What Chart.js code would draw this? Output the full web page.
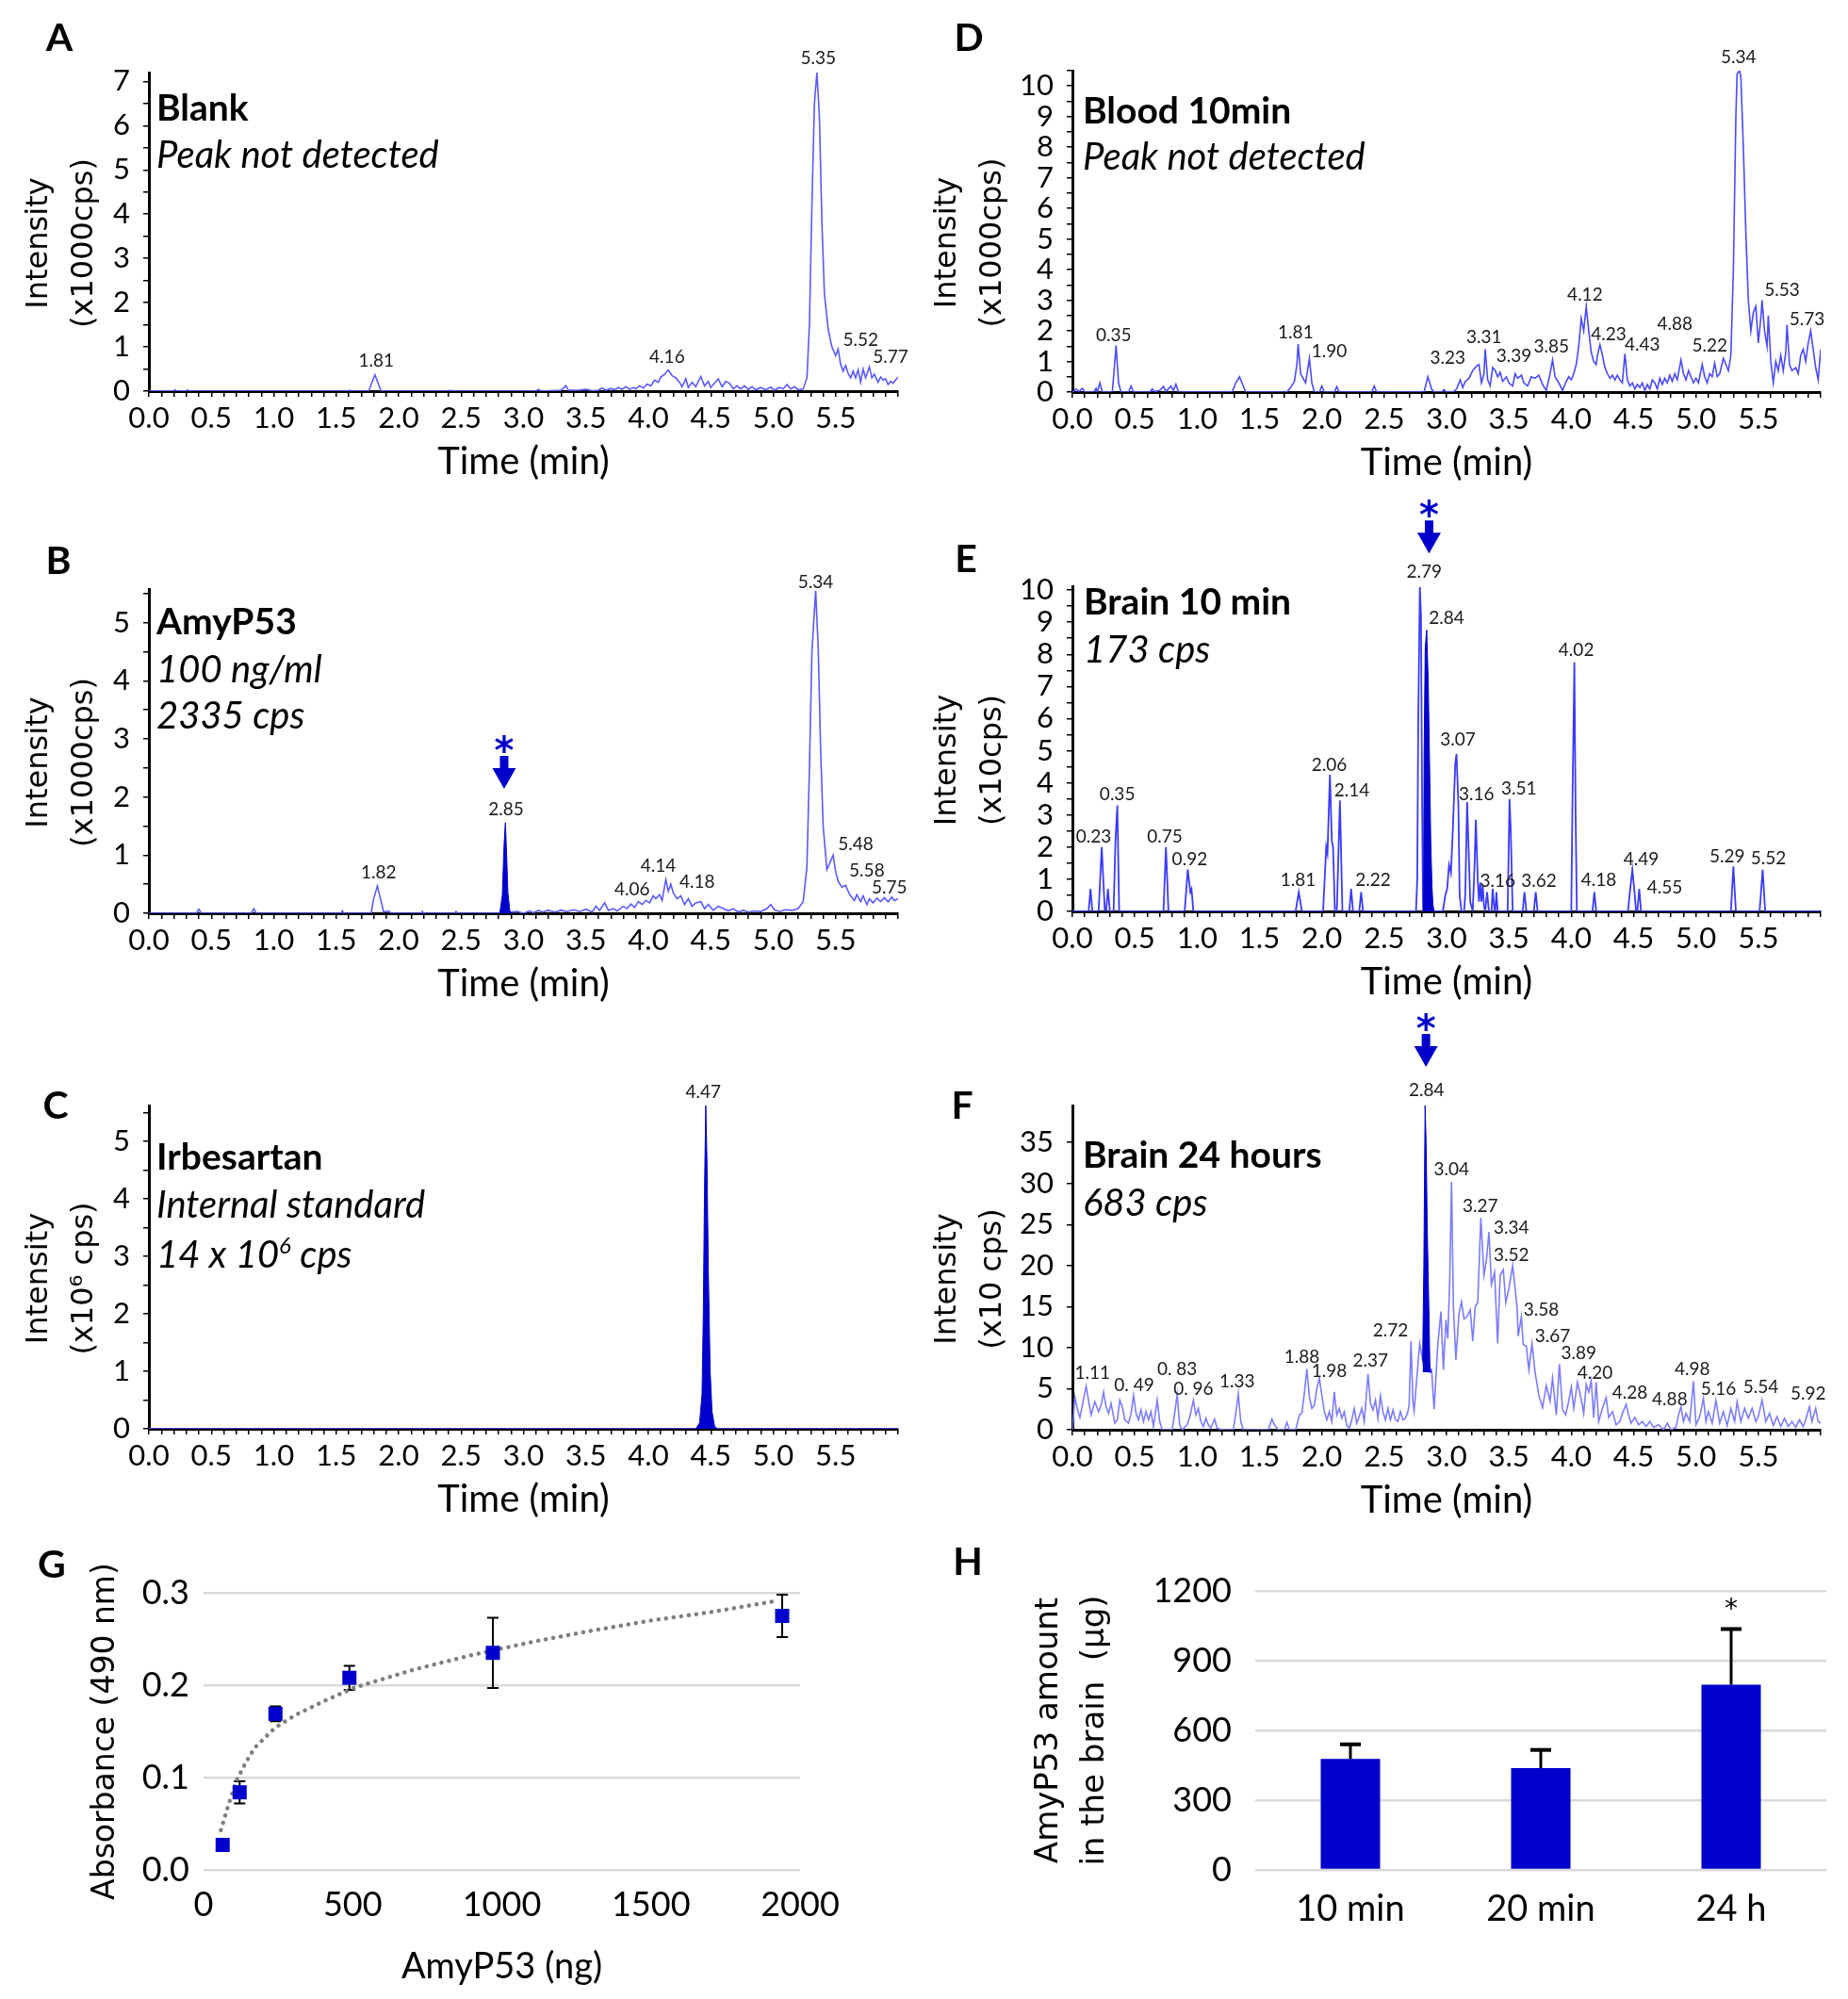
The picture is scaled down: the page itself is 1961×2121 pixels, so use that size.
<!DOCTYPE html>
<html>
<head>
<meta charset="utf-8">
<title>AmyP53 chromatograms</title>
<script src="https://cdn.jsdelivr.net/npm/chart.js@4"></script>
<style>
body { margin: 0; background: #fff; }
#page { position: relative; width: 1961px; height: 2121px; overflow: hidden; font-family: Lato, "Open Sans", sans-serif; color: #000; }
canvas { position: absolute; }
.letter { position: absolute; font-weight: bold; font-size: 41px; line-height: 1; transform: translate(-50%, -50%); }
.note { position: absolute; line-height: 1; transform: translateY(-50%); white-space: nowrap; }
.note.b { font-weight: bold; font-size: 39px; }
.note.i { font-style: italic; font-size: 40px; }
.note sup { font-size: 24px; vertical-align: 15px; }
</style>
</head>
<body>
<div id="page">
  <canvas id="chartA" width="980" height="540" style="left:0;top:0"></canvas>
  <canvas id="chartD" width="981" height="540" style="left:980px;top:0"></canvas>
  <canvas id="chartB" width="980" height="540" style="left:0;top:540px"></canvas>
  <canvas id="chartE" width="981" height="550" style="left:980px;top:520px"></canvas>
  <canvas id="chartC" width="980" height="540" style="left:0;top:1090px"></canvas>
  <canvas id="chartF" width="981" height="580" style="left:980px;top:1050px"></canvas>
  <canvas id="chartG" width="980" height="501" style="left:0;top:1620px"></canvas>
  <canvas id="chartH" width="981" height="501" style="left:980px;top:1620px"></canvas>

  <div class="letter" style="left:63px;top:38px">A</div>
  <div class="letter" style="left:1028px;top:38px">D</div>
  <div class="letter" style="left:62px;top:593px">B</div>
  <div class="letter" style="left:1025px;top:591px">E</div>
  <div class="letter" style="left:59px;top:1171px">C</div>
  <div class="letter" style="left:1021px;top:1171px">F</div>
  <div class="letter" style="left:55px;top:1658px">G</div>
  <div class="letter" style="left:1027px;top:1655px">H</div>

  <div class="note b" style="left:166px;top:113px">Blank</div>
  <div class="note i" style="left:166px;top:163px">Peak not detected</div>
  <div class="note b" style="left:1149px;top:116px">Blood 10min</div>
  <div class="note i" style="left:1149px;top:165px">Peak not detected</div>
  <div class="note b" style="left:166px;top:658px">AmyP53</div>
  <div class="note i" style="left:166px;top:709px">100 ng/ml</div>
  <div class="note i" style="left:166px;top:758px">2335 cps</div>
  <div class="note b" style="left:1150px;top:637px">Brain 10 min</div>
  <div class="note i" style="left:1150px;top:688px">173 cps</div>
  <div class="note b" style="left:166px;top:1226px">Irbesartan</div>
  <div class="note i" style="left:166px;top:1277px">Internal standard</div>
  <div class="note i" style="left:166px;top:1329px">14 x 10<sup>6</sup> cps</div>
  <div class="note b" style="left:1149px;top:1224px">Brain 24 hours</div>
  <div class="note i" style="left:1149px;top:1275px">683 cps</div>
</div>

<script>
// ---- A: blank (x1000 cps) ----
const traceA = [[0,0],[0.2,0.01],[0.21,0.03],[0.22,0],[0.3,0.01],[0.31,0.03],[0.32,0],[1.6,0],[1.61,0.02],[1.62,0],
  [1.76,0],[1.78,0.15],[1.81,0.37],[1.84,0.15],[1.86,0],[2.4,0],[2.41,0.02],[2.42,0],[3.1,0],[3.12,0.04],[3.14,0],
  [3.3,0.02],[3.34,0.12],[3.36,0.02],[3.45,0.02],[3.5,0.04],[3.55,0.01],[3.6,0.02],[3.63,0.07],[3.66,0.02],[3.7,0.06],
  [3.73,0.03],[3.76,0.08],[3.79,0.04],[3.82,0.1],[3.85,0.04],[3.88,0.08],[3.9,0.05],[3.93,0.12],[3.96,0.07],[3.99,0.16],
  [4.02,0.12],[4.05,0.25],[4.08,0.2],[4.1,0.32],[4.13,0.38],[4.16,0.48],[4.19,0.35],[4.22,0.3],[4.25,0.2],[4.27,0.1],
  [4.3,0.28],[4.32,0.08],[4.35,0.2],[4.38,0.1],[4.42,0.33],[4.45,0.12],[4.48,0.22],[4.5,0.08],[4.53,0.18],[4.56,0.28],
  [4.59,0.1],[4.62,0.22],[4.65,0.18],[4.68,0.05],[4.71,0.12],[4.74,0.05],[4.77,0.12],[4.8,0.04],[4.83,0.1],[4.86,0.03],
  [4.9,0.08],[4.94,0.03],[4.98,0.09],[5.01,0.02],[5.05,0.08],[5.08,0.05],[5.11,0.15],[5.14,0.05],[5.17,0.1],[5.2,0.03],
  [5.24,0.05],[5.27,0.3],[5.29,1.5],[5.31,4.2],[5.33,6.5],[5.35,7.2],[5.37,6.2],[5.39,3.8],[5.41,2.2],[5.44,1.4],
  [5.47,1.0],[5.5,0.8],[5.52,0.95],[5.54,0.6],[5.56,0.45],[5.58,0.58],[5.6,0.4],[5.62,0.3],[5.64,0.45],[5.66,0.3],
  [5.68,0.48],[5.7,0.2],[5.72,0.5],[5.74,0.3],[5.77,0.55],[5.79,0.3],[5.81,0.38],[5.84,0.2],[5.86,0.32],[5.88,0.25],
  [5.9,0.28],[5.92,0.15],[5.94,0.22],[5.96,0.18],[5.98,0.25],[6.0,0.32]];
const labelsA = [[5.36,7.52,'5.35'],[1.82,0.68,'1.81'],[4.15,0.78,'4.16'],[5.70,1.15,'5.52'],[5.94,0.78,'5.77']];

// ---- B: AmyP53 standard (x1000 cps) ----
const traceB = [[0,0],[0.38,0],[0.4,0.07],[0.42,0],[0.82,0],[0.84,0.08],[0.86,0],[1.54,0],[1.55,0.04],[1.56,0],
  [1.78,0],[1.8,0.25],[1.83,0.47],[1.86,0.2],[1.88,0.02],[1.92,0.04],[1.94,0],[2.18,0],[2.19,0.03],[2.2,0],[2.45,0],
  [2.46,0.03],[2.47,0],[2.8,0],[2.9,0.02],[2.95,0.03],[3.0,0],[3.05,0.04],[3.08,0.01],[3.12,0.05],[3.15,0.02],[3.2,0.05],
  [3.25,0.02],[3.3,0.05],[3.35,0.03],[3.4,0.06],[3.45,0.03],[3.5,0.07],[3.55,0.02],[3.58,0.12],[3.61,0.05],[3.65,0.18],
  [3.68,0.05],[3.72,0.08],[3.75,0.04],[3.8,0.12],[3.83,0.08],[3.86,0.16],[3.89,0.1],[3.92,0.2],[3.95,0.15],[3.98,0.22],
  [4.01,0.18],[4.04,0.3],[4.06,0.25],[4.09,0.32],[4.11,0.22],[4.14,0.58],[4.16,0.38],[4.18,0.5],[4.2,0.35],[4.23,0.25],
  [4.26,0.3],[4.29,0.15],[4.32,0.25],[4.35,0.12],[4.38,0.18],[4.42,0.2],[4.45,0.08],[4.48,0.15],[4.52,0.05],[4.56,0.12],
  [4.6,0.08],[4.64,0.04],[4.68,0.08],[4.72,0.02],[4.76,0.05],[4.8,0.02],[4.85,0.04],[4.9,0.03],[4.95,0.08],[4.98,0.15],
  [5.01,0.06],[5.05,0.03],[5.1,0.06],[5.15,0.05],[5.2,0.08],[5.24,0.2],[5.27,0.8],[5.29,2.5],[5.31,4.5],[5.34,5.55],
  [5.36,4.6],[5.38,2.8],[5.4,1.5],[5.43,0.75],[5.45,0.85],[5.48,1.0],[5.5,0.72],[5.52,0.55],[5.55,0.45],[5.58,0.48],
  [5.6,0.38],[5.62,0.3],[5.65,0.22],[5.67,0.32],[5.7,0.2],[5.72,0.3],[5.75,0.15],[5.77,0.25],[5.8,0.18],[5.83,0.26],
  [5.86,0.2],[5.89,0.27],[5.92,0.2],[5.95,0.28],[5.97,0.22],[6.0,0.25]];
const peakB = [[2.81,0],[2.83,0.3],[2.845,1.2],[2.855,1.56],[2.865,1.0],[2.875,0.35],[2.89,0.05],[2.9,0]];
const labelsB = [[5.34,5.70,'5.34'],[2.86,1.78,'2.85'],[1.84,0.70,'1.82'],[4.08,0.81,'4.14'],[3.87,0.41,'4.06'],
  [4.39,0.54,'4.18'],[5.66,1.18,'5.48'],[5.75,0.74,'5.58'],[5.93,0.44,'5.75']];

// ---- C: irbesartan internal standard (x10^6 cps) ----
const traceC = [[0,0],[4.38,0],[4.55,0],[6.0,0]];
const peakC = [[4.38,0],[4.41,0.1],[4.43,0.6],[4.44,2.0],[4.45,4.2],[4.46,5.62],[4.47,4.6],[4.48,2.8],[4.495,1.0],
  [4.51,0.3],[4.53,0.05],[4.55,0]];
const labelsC = [[4.44,5.85,'4.47']];

// ---- D: blood 10 min (x1000 cps) ----
const traceD = [[0,0],[0.03,0.1],[0.05,0.02],[0.08,0.12],[0.1,0],[0.17,0],[0.19,0.12],[0.2,0],[0.22,0.3],[0.24,0],
  [0.32,0],[0.34,1.0],[0.35,1.52],[0.37,0.3],[0.39,0],[0.45,0],[0.47,0.2],[0.49,0],[0.62,0],[0.64,0.1],[0.66,0.02],
  [0.7,0.05],[0.73,0.18],[0.75,0.02],[0.79,0.2],[0.81,0.05],[0.83,0.26],[0.85,0],[1.28,0],[1.31,0.3],[1.34,0.5],
  [1.37,0.2],[1.39,0],[1.72,0],[1.75,0.15],[1.78,0.35],[1.8,0.9],[1.81,1.57],[1.83,0.6],[1.85,0.45],[1.87,0.3],
  [1.9,1.1],[1.92,0.3],[1.94,0],[1.98,0],[2.0,0.2],[2.02,0],[2.1,0],[2.12,0.18],[2.14,0],[2.4,0],[2.42,0.2],[2.44,0],
  [2.82,0],[2.85,0.5],[2.88,0.1],[2.9,0],[2.96,0],[2.98,0.08],[3.0,0],[3.05,0],[3.08,0.1],[3.11,0.4],[3.13,0.15],
  [3.15,0.35],[3.18,0.45],[3.21,0.7],[3.24,0.85],[3.26,0.9],[3.28,0.3],[3.3,0.6],[3.31,1.4],[3.33,0.4],[3.35,0.2],
  [3.37,0.8],[3.39,0.7],[3.41,0.5],[3.43,0.65],[3.45,0.35],[3.48,0.5],[3.5,0.3],[3.53,0.2],[3.55,0.6],[3.57,0.45],
  [3.6,0.55],[3.62,0.3],[3.65,0.2],[3.68,0.5],[3.71,0.45],[3.74,0.55],[3.77,0.25],[3.8,0.05],[3.83,0.6],[3.85,1.05],
  [3.87,0.5],[3.9,0.3],[3.93,0.05],[3.96,0.35],[3.98,0.5],[4.0,0.4],[4.02,0.6],[4.04,0.9],[4.06,1.5],[4.08,2.4],
  [4.1,2.0],[4.12,2.8],[4.14,2.0],[4.16,1.3],[4.18,1.0],[4.2,0.9],[4.21,1.2],[4.23,1.55],[4.25,1.2],[4.27,0.8],
  [4.29,0.6],[4.31,0.45],[4.33,0.55],[4.35,0.4],[4.37,0.55],[4.39,0.4],[4.41,0.3],[4.43,1.25],[4.45,0.4],[4.47,0.2],
  [4.49,0.3],[4.51,0.1],[4.53,0.25],[4.55,0.15],[4.57,0.3],[4.59,0.05],[4.61,0.25],[4.63,0.1],[4.65,0.4],[4.67,0.3],
  [4.69,0.1],[4.71,0.45],[4.73,0.25],[4.75,0.45],[4.77,0.3],[4.79,0.55],[4.81,0.35],[4.83,0.6],[4.85,0.4],[4.88,1.05],
  [4.9,0.6],[4.92,0.4],[4.94,0.7],[4.96,0.5],[4.98,0.3],[5.0,0.45],[5.02,0.3],[5.05,0.9],[5.07,0.5],[5.09,0.3],
  [5.11,0.6],[5.13,0.5],[5.15,0.95],[5.17,0.5],[5.19,0.6],[5.22,1.1],[5.24,0.9],[5.26,0.7],[5.28,1.2],[5.3,4.0],
  [5.32,9.0],[5.33,10.4],[5.35,10.5],[5.36,10.3],[5.38,8.0],[5.4,5.2],[5.42,3.0],[5.44,2.0],[5.46,2.6],[5.48,2.8],
  [5.5,1.6],[5.52,2.4],[5.53,3.0],[5.55,2.0],[5.57,1.5],[5.58,2.5],[5.6,1.0],[5.62,0.3],[5.64,1.0],[5.66,0.7],
  [5.68,1.2],[5.7,0.7],[5.72,1.3],[5.73,2.2],[5.75,0.9],[5.77,0.7],[5.8,0.8],[5.82,0.6],[5.84,1.2],[5.86,1.4],
  [5.88,1.0],[5.9,1.6],[5.92,2.0],[5.94,1.4],[5.96,0.8],[5.98,0.4],[6.0,1.4]];
const labelsD = [[5.34,10.92,'5.34'],[0.33,1.85,'0.35'],[1.79,1.95,'1.81'],[2.06,1.32,'1.90'],[3.01,1.11,'3.23'],
  [3.30,1.78,'3.31'],[3.54,1.16,'3.39'],[3.84,1.47,'3.85'],[4.11,3.17,'4.12'],[4.30,1.88,'4.23'],[4.57,1.54,'4.43'],
  [4.83,2.21,'4.88'],[5.11,1.52,'5.22'],[5.69,3.32,'5.53'],[5.89,2.39,'5.73']];

// ---- E: brain 10 min (x10 cps) ----
const traceE = [[0,0],[0.13,0],[0.145,0.7],[0.16,0],[0.21,0],[0.235,2.0],[0.26,0],[0.27,0],[0.285,0.7],[0.3,0],
  [0.33,0],[0.345,2.2],[0.36,3.3],[0.375,0],[0.73,0],[0.75,2.0],[0.77,0],[0.9,0],[0.925,1.3],[0.945,0.6],[0.955,0.7],
  [0.97,0],[1.79,0],[1.815,0.6],[1.84,0],[2.01,0],[2.035,2.0],[2.045,1.8],[2.065,4.25],[2.08,2.2],[2.09,2.0],[2.105,0],
  [2.12,0],[2.145,3.45],[2.165,0],[2.22,0],[2.235,0.7],[2.25,0],[2.3,0],[2.315,0.6],[2.33,0],[2.755,0],[2.765,1.0],
  [2.773,5.9],[2.786,10.1],[2.795,9.2],[2.803,4.0],[2.81,0.5],[2.812,0],[2.97,0],[2.99,0.5],[3.005,0.7],[3.02,1.45],
  [3.035,1.2],[3.05,2.5],[3.07,4.6],[3.08,4.9],[3.095,3.3],[3.105,0.5],[3.12,0],[3.14,0],[3.15,0.5],[3.165,3.4],
  [3.175,2.2],[3.19,0.3],[3.21,0],[3.225,1.5],[3.235,2.85],[3.25,1.0],[3.26,0.3],[3.27,0.9],[3.28,0.3],[3.29,0.8],
  [3.3,0.2],[3.31,0],[3.325,0.6],[3.34,0],[3.36,0],[3.37,0.7],[3.385,0],[3.39,0],[3.4,0.6],[3.41,0],[3.49,0],
  [3.505,3.5],[3.515,2.5],[3.53,0],[3.61,0],[3.625,0.6],[3.64,0],[3.7,0],[3.715,0.6],[3.73,0],[4.0,0],[4.01,3.5],
  [4.025,7.75],[4.035,3.0],[4.045,0],[4.17,0],[4.185,0.6],[4.2,0],[4.455,0],[4.47,0.6],[4.49,1.3],[4.505,0.7],
  [4.52,0],[4.53,0],[4.545,0.7],[4.56,0],[5.28,0],[5.3,1.4],[5.32,0],[5.51,0],[5.535,1.3],[5.555,0],[6.0,0]];
const peakE = [[2.812,0],[2.816,1.0],[2.82,4.9],[2.829,8.2],[2.841,8.76],[2.853,7.15],[2.866,4.1],[2.873,2.26],
  [2.883,0.8],[2.891,0.2],[2.9,0]];
const labelsE = [[2.82,10.57,'2.79'],[3.00,9.12,'2.84'],[0.17,2.33,'0.23'],[0.36,3.65,'0.35'],[0.74,2.33,'0.75'],
  [0.94,1.63,'0.92'],[1.81,0.96,'1.81'],[2.06,4.55,'2.06'],[2.24,3.75,'2.14'],[2.41,0.96,'2.22'],[3.09,5.33,'3.07'],
  [3.24,3.65,'3.16'],[3.58,3.82,'3.51'],[3.41,0.93,'3.16'],[3.74,0.93,'3.62'],[4.04,8.14,'4.02'],[4.22,0.96,'4.18'],
  [4.56,1.61,'4.49'],[4.75,0.75,'4.55'],[5.25,1.71,'5.29'],[5.58,1.65,'5.52']];

// ---- F: brain 24 hours (x10 cps) ----
const traceF = [[0,0],[0.02,4.0],[0.04,2.5],[0.06,1.5],[0.08,3.0],[0.11,5.3],[0.13,3.5],[0.15,1.8],[0.18,3.4],
  [0.21,2.2],[0.23,3.0],[0.25,4.6],[0.27,2.8],[0.29,2.0],[0.31,3.2],[0.34,0.8],[0.36,1.2],[0.38,3.6],[0.4,2.8],
  [0.42,1.2],[0.45,0.8],[0.47,2.0],[0.49,4.2],[0.51,2.0],[0.53,1.2],[0.55,2.4],[0.57,1.0],[0.59,2.2],[0.61,1.2],
  [0.63,2.2],[0.65,0.4],[0.68,3.6],[0.7,1.0],[0.72,0],[0.8,0],[0.82,2.0],[0.84,4.3],[0.86,0.6],[0.88,0],[0.92,0.6],
  [0.94,1.5],[0.97,3.6],[0.99,1.8],[1.01,2.6],[1.03,1.0],[1.05,0.4],[1.07,1.4],[1.09,0.6],[1.11,0.2],[1.14,1.3],
  [1.16,0.2],[1.2,0],[1.29,0],[1.31,2.0],[1.33,4.4],[1.35,1.0],[1.37,0],[1.57,0],[1.6,1.3],[1.62,0.6],[1.65,0],
  [1.7,0],[1.72,0.9],[1.74,0],[1.79,0],[1.82,1.8],[1.84,2.0],[1.86,4.5],[1.88,7.4],[1.9,4.0],[1.92,2.6],[1.94,3.0],
  [1.96,5.0],[1.98,6.3],[2.0,4.2],[2.02,2.2],[2.04,1.2],[2.06,2.2],[2.08,1.0],[2.1,4.6],[2.12,1.8],[2.14,2.6],
  [2.16,1.4],[2.18,2.2],[2.2,0.5],[2.22,0.2],[2.24,1.2],[2.26,2.6],[2.28,0.8],[2.3,1.6],[2.32,2.6],[2.34,1.0],
  [2.35,2.8],[2.37,6.8],[2.39,3.2],[2.41,2.4],[2.43,3.6],[2.45,1.4],[2.47,4.1],[2.49,2.2],[2.51,1.2],[2.53,2.6],
  [2.55,1.2],[2.57,2.4],[2.59,1.2],[2.61,1.0],[2.63,2.2],[2.65,1.2],[2.67,1.4],[2.69,2.2],[2.7,3.0],[2.715,10.8],
  [2.73,3.5],[2.74,2.3],[2.76,6.0],[2.785,10.5],[2.8,9.2],[2.82,7.5],[2.86,7.0],[2.88,7.3],[2.9,2.5],[2.93,10.4],
  [2.955,14.4],[2.975,7.3],[2.995,13.4],[3.01,11.1],[3.025,18],[3.04,30.2],[3.055,15],[3.075,8.5],[3.1,14.2],
  [3.12,15.6],[3.14,13.5],[3.165,13.8],[3.19,14.6],[3.21,10.8],[3.23,15],[3.25,15.5],[3.275,25.8],[3.3,18.8],
  [3.32,20.7],[3.34,24.1],[3.36,17.7],[3.385,19.2],[3.41,10.5],[3.43,18.8],[3.455,19.5],[3.475,15.5],[3.5,17.2],
  [3.53,20],[3.565,15],[3.575,11.4],[3.6,13.8],[3.615,10.4],[3.64,10.2],[3.66,7.3],[3.685,10.5],[3.71,7.0],
  [3.74,4.2],[3.77,2.7],[3.8,5.4],[3.83,3.5],[3.85,6.3],[3.88,1.8],[3.905,8.0],[3.93,2.5],[3.955,1.8],[3.98,3.5],
  [4.0,5.2],[4.02,2.6],[4.05,5.8],[4.08,3.7],[4.1,2.0],[4.12,5.5],[4.14,4.6],[4.16,6.0],[4.18,1.5],[4.2,5.8],
  [4.22,1.0],[4.25,2.6],[4.28,3.9],[4.3,1.5],[4.33,2.2],[4.36,0.6],[4.39,1.0],[4.41,2.0],[4.44,3.1],[4.46,1.8],
  [4.48,0.8],[4.51,1.5],[4.54,0.6],[4.57,1.0],[4.6,0.4],[4.63,1.0],[4.66,0.3],[4.7,0.6],[4.74,0],[4.77,0.8],[4.8,0],
  [4.84,0.3],[4.86,1.8],[4.88,2.8],[4.9,1.0],[4.92,2.0],[4.95,1.0],[4.98,5.9],[5.0,0.6],[5.03,1.6],[5.06,3.8],
  [5.08,1.0],[5.1,2.2],[5.13,0.8],[5.16,3.6],[5.19,0.8],[5.22,2.2],[5.25,0.5],[5.28,2.6],[5.31,1.0],[5.33,3.4],
  [5.36,1.0],[5.39,2.6],[5.42,1.4],[5.45,2.6],[5.48,1.0],[5.5,1.6],[5.53,3.6],[5.56,1.0],[5.59,2.0],[5.62,0.5],
  [5.65,1.6],[5.68,0.4],[5.71,1.4],[5.74,0.4],[5.77,1.0],[5.8,0.3],[5.83,1.2],[5.86,0.4],[5.88,1.2],[5.91,2.8],
  [5.93,1.0],[5.96,2.6],[5.98,1.0],[6.0,0.8]];
const peakF = [[2.808,8.3],[2.818,20],[2.828,39.5],[2.836,35],[2.846,24],[2.854,18],[2.866,8.1],[2.873,6.9]];
const peakBaseF = 7;
const labelsF = [[2.84,41.4,'2.84'],[3.04,31.75,'3.04'],[3.27,27.26,'3.27'],[3.52,24.6,'3.34'],[3.52,21.2,'3.52'],
  [3.76,14.55,'3.58'],[3.85,11.4,'3.67'],[4.06,9.33,'3.89'],[4.19,6.93,'4.20'],[4.47,4.49,'4.28'],[4.79,3.64,'4.88'],
  [4.97,7.4,'4.98'],[5.18,5.0,'5.16'],[5.52,5.13,'5.54'],[5.90,4.4,'5.92'],[2.55,12.1,'2.72'],[2.39,8.43,'2.37'],
  [2.06,7.15,'1.98'],[1.84,8.86,'1.88'],[1.32,5.86,'1.33'],[0.97,5.0,'0. 96'],[0.84,7.36,'0. 83'],[0.495,5.43,'0. 49'],
  [0.16,6.85,'1.11']];

// ---- G: calibration curve ----
const amyNg = [64, 121, 241, 489, 970, 1940];
const absorbance = [0.027, 0.084, 0.169, 0.208, 0.235, 0.275];
const absorbanceSd = [0.003, 0.012, 0.008, 0.013, 0.038, 0.023];
const trendNg = [58, 82, 111, 141, 171, 240, 310, 409, 508, 707, 905, 1104, 1302, 1500, 1699, 1917];
const trendAbs = [0.043, 0.069, 0.097, 0.116, 0.132, 0.154, 0.168, 0.1835, 0.1975, 0.217, 0.233, 0.247, 0.259, 0.270, 0.279, 0.291];

// ---- H: amount in brain ----
const brainTimes = ['10 min', '20 min', '24 h'];
const brainAmount = [477, 438, 797];
const brainSd = [63, 78, 239];
const brainSig = ['', '', '*'];

Chart.defaults.font.family = 'Lato, "Open Sans", sans-serif';
Chart.defaults.color = '#000';

const timeTick = v => {
    const h = v * 2;
    return (Math.abs(h - Math.round(h)) < 1e-6 && v < 5.99) ? v.toFixed(1) : '';
};
const wholeTick = v => Math.abs(v - Math.round(v)) < 1e-6 ? String(Math.round(v)) : '';

// peak labels + the blue "*" arrow over the AmyP53 peak
function peakLabelPlugin(labels, arrow) {
    return {
        id: 'peakLabels',
        afterDatasetsDraw(chart) {
            const {ctx, scales: {x, y}} = chart;
            ctx.save();
            ctx.font = '19px Lato';
            ctx.fillStyle = '#1a1a1a';
            ctx.textAlign = 'center';
            ctx.textBaseline = 'middle';
            labels.forEach(([t, v, txt]) => ctx.fillText(txt, x.getPixelForValue(t), y.getPixelForValue(v)));
            if (arrow) {
                const ax = x.getPixelForValue(arrow[0]);
                const ay = y.getPixelForValue(arrow[1]);
                ctx.fillStyle = '#0000cc';
                ctx.fillRect(ax - 4.5, ay - 35, 9, 14);
                ctx.beginPath();
                ctx.moveTo(ax - 12.5, ay - 22);
                ctx.lineTo(ax + 12.5, ay - 22);
                ctx.lineTo(ax, ay);
                ctx.closePath();
                ctx.fill();
                ctx.font = 'bold 40px "DejaVu Sans"';
                ctx.textBaseline = 'alphabetic';
                ctx.fillText('*', ax, ay - 49 + 22);
            }
            ctx.restore();
        }
    };
}

// two-line rotated intensity title, a little below the middle of the y axis
function yTitlePlugin(lines, xs) {
    return {
        id: 'yTitle',
        afterDraw(chart) {
            const {ctx, chartArea} = chart;
            const cy = (chartArea.top + chartArea.bottom) / 2 + 12;
            ctx.save();
            ctx.font = '32px "DejaVu Sans"';
            ctx.fillStyle = '#000';
            ctx.textAlign = 'center';
            ctx.textBaseline = 'middle';
            lines.forEach((txt, i) => {
                ctx.save();
                ctx.translate(xs[i], cy);
                ctx.rotate(-Math.PI / 2);
                ctx.fillText(txt, 0, 0);
                ctx.restore();
            });
            ctx.restore();
        }
    };
}

function createChromatogram(canvasId, cfg) {
    const canvas = document.getElementById(canvasId);
    const datasets = [];
    if (cfg.peak) {
        datasets.push({
            data: cfg.peak,
            borderColor: '#0000cc',
            backgroundColor: '#0000cc',
            borderWidth: 1,
            pointRadius: 0,
            fill: cfg.peakBase !== undefined ? {value: cfg.peakBase} : 'origin'
        });
    }
    datasets.push({
        data: cfg.trace,
        borderColor: cfg.lineColor,
        borderWidth: cfg.lineWidth || 1.6,
        pointRadius: 0,
        fill: false
    });
    const axisGrid = {display: true, drawOnChartArea: false, drawTicks: true, tickLength: 6, color: '#000', lineWidth: 1.5};
    const axisBorder = {display: true, color: '#000', width: 3};
    return new Chart(canvas, {
        type: 'line',
        data: {datasets},
        options: {
            responsive: false,
            animation: false,
            events: [],
            layout: {padding: cfg.padding},
            plugins: {legend: {display: false}, tooltip: {enabled: false}},
            scales: {
                x: {
                    type: 'linear', min: 0, max: 6,
                    ticks: {stepSize: 0.1, autoSkip: false, maxRotation: 0, padding: 4, font: {size: 31}, callback: timeTick},
                    grid: axisGrid,
                    border: axisBorder,
                    title: {display: true, text: 'Time (min)', font: {size: 40}, padding: {top: 0, bottom: 1}},
                    afterFit: s => { s.height = 100; }
                },
                y: {
                    min: 0, max: cfg.yMax,
                    ticks: {stepSize: cfg.yStep, includeBounds: false, autoSkip: false, padding: 14, font: {size: 31}, callback: wholeTick},
                    grid: axisGrid,
                    border: axisBorder,
                    afterFit: s => { s.width = cfg.yWidth; }
                }
            }
        },
        plugins: [peakLabelPlugin(cfg.labels, cfg.arrow), yTitlePlugin(['Intensity', cfg.yUnit], cfg.titleX)]
    });
}

const leftTitleX = [42, 90];
const rightTitleX = [26, 74];

createChromatogram('chartA', {trace: traceA, labels: labelsA, lineColor: '#5a5aff', yMax: 7.2, yStep: 0.5,
    yUnit: '(x1000cps)', titleX: leftTitleX, yWidth: 158, padding: {left: 0, top: 77, right: 27, bottom: 25}});
createChromatogram('chartB', {trace: traceB, peak: peakB, labels: labelsB, arrow: [2.845, 2.14], lineColor: '#5a5aff',
    yMax: 5.58, yStep: 0.5, yUnit: '(x1000cps)', titleX: leftTitleX, yWidth: 158, padding: {left: 0, top: 85, right: 27, bottom: 11}});
createChromatogram('chartC', {trace: traceC, peak: peakC, labels: labelsC, lineColor: '#5a5aff', yMax: 5.62, yStep: 0.5,
    yUnit: '(x10\u2076 cps)', titleX: leftTitleX, yWidth: 158, padding: {left: 0, top: 83, right: 27, bottom: 14}});
createChromatogram('chartD', {trace: traceD, labels: labelsD, lineColor: '#4a4aff', yMax: 10.5, yStep: 0.5,
    yUnit: '(x1000cps)', titleX: rightTitleX, yWidth: 158, padding: {left: 0, top: 75, right: 29, bottom: 24}});
createChromatogram('chartE', {trace: traceE, peak: peakE, labels: labelsE, arrow: [2.86, 11.14], lineColor: '#3a3aff',
    lineWidth: 1.8, yMax: 10.12, yStep: 0.5, yUnit: '(x10cps)', titleX: rightTitleX, yWidth: 158,
    padding: {left: 0, top: 102, right: 29, bottom: 3}});
createChromatogram('chartF', {trace: traceF, peak: peakF, peakBase: peakBaseF, labels: labelsF, arrow: [2.835, 44.2],
    lineColor: '#7c7cff', yMax: 39.5, yStep: 5, yUnit: '(x10 cps)', titleX: rightTitleX, yWidth: 158,
    padding: {left: 0, top: 123, right: 29, bottom: 13}});

// calibration curve with error bars
const calibErrorBars = {
    id: 'calibErrorBars',
    beforeDatasetsDraw(chart) {
        const {ctx, scales: {x, y}} = chart;
        ctx.save();
        ctx.strokeStyle = '#000';
        ctx.lineWidth = 2;
        amyNg.forEach((ng, i) => {
            const px = x.getPixelForValue(ng);
            const top = y.getPixelForValue(absorbance[i] + absorbanceSd[i]);
            const bot = y.getPixelForValue(absorbance[i] - absorbanceSd[i]);
            ctx.beginPath();
            ctx.moveTo(px, top); ctx.lineTo(px, bot);
            ctx.moveTo(px - 6, top); ctx.lineTo(px + 6, top);
            ctx.moveTo(px - 6, bot); ctx.lineTo(px + 6, bot);
            ctx.stroke();
        });
        ctx.restore();
    }
};

new Chart(document.getElementById('chartG'), {
    type: 'scatter',
    data: {
        datasets: [{
            data: amyNg.map((ng, i) => ({x: ng, y: absorbance[i]})),
            pointStyle: 'rect',
            pointRadius: 10.6,
            backgroundColor: '#0000cc',
            borderColor: '#0000cc',
            borderWidth: 0
        }, {
            data: trendNg.map((ng, i) => ({x: ng, y: trendAbs[i]})),
            showLine: true,
            borderColor: '#7f7f7f',
            borderWidth: 4.5,
            borderDash: [0.1, 8],
            borderCapStyle: 'round',
            pointRadius: 0,
            fill: false
        }]
    },
    options: {
        responsive: false,
        animation: false,
        events: [],
        layout: {padding: {left: 0, top: 70, right: 131, bottom: 7}},
        plugins: {legend: {display: false}, tooltip: {enabled: false}},
        scales: {
            x: {
                type: 'linear', min: 0, max: 2000,
                ticks: {stepSize: 500, padding: 16, font: {size: 36}, callback: v => String(v)},
                grid: {display: false, drawTicks: false},
                border: {display: false},
                title: {display: true, text: 'AmyP53 (ng)', font: {size: 38}, padding: {top: 0, bottom: 4.5}},
                afterFit: s => { s.height = 130; }
            },
            y: {
                min: 0, max: 0.3,
                ticks: {stepSize: 0.1, padding: 15, font: {size: 36}, callback: v => v.toFixed(1)},
                grid: {color: '#d9d9d9', lineWidth: 2.5, drawTicks: false},
                border: {display: false},
                title: {display: true, text: 'Absorbance (490 nm)', font: {family: '"DejaVu Sans"', size: 33},
                    padding: {top: 93, bottom: 0}},
                afterFit: s => { s.width = 216; }
            }
        }
    },
    plugins: [calibErrorBars]
});

// bar chart with upper error bars
const brainErrorBars = {
    id: 'brainErrorBars',
    afterDatasetsDraw(chart) {
        const {ctx, scales: {y}} = chart;
        ctx.save();
        ctx.strokeStyle = '#000';
        ctx.fillStyle = '#000';
        chart.getDatasetMeta(0).data.forEach((bar, i) => {
            const top = y.getPixelForValue(brainAmount[i] + brainSd[i]);
            ctx.lineWidth = 3;
            ctx.beginPath();
            ctx.moveTo(bar.x, bar.y); ctx.lineTo(bar.x, top);
            ctx.stroke();
            ctx.lineWidth = 4;
            ctx.beginPath();
            ctx.moveTo(bar.x - 11, top); ctx.lineTo(bar.x + 11, top);
            ctx.stroke();
            if (brainSig[i]) {
                ctx.font = '28px "DejaVu Sans"';
                ctx.textAlign = 'center';
                ctx.textBaseline = 'alphabetic';
                ctx.fillText(brainSig[i], bar.x, top - 12);
            }
        });
        ctx.restore();
    }
};

new Chart(document.getElementById('chartH'), {
    type: 'bar',
    data: {
        labels: brainTimes,
        datasets: [{
            data: brainAmount,
            backgroundColor: '#0000cc',
            borderWidth: 0,
            barPercentage: 0.312,
            categoryPercentage: 1
        }]
    },
    options: {
        responsive: false,
        animation: false,
        events: [],
        layout: {padding: {left: 0, top: 68, right: 23, bottom: 7}},
        plugins: {legend: {display: false}, tooltip: {enabled: false}},
        scales: {
            x: {
                ticks: {padding: 19, font: {size: 38}},
                grid: {display: false, drawTicks: false},
                border: {display: false},
                afterFit: s => { s.height = 130; }
            },
            y: {
                min: 0, max: 1200,
                ticks: {stepSize: 300, padding: 25, font: {size: 36}, callback: v => String(v)},
                grid: {color: '#d9d9d9', lineWidth: 2.5, drawTicks: false},
                border: {display: false},
                title: {display: true, text: ['AmyP53 amount', 'in the brain  (\u00b5g)'],
                    font: {family: '"DejaVu Sans"', size: 34, lineHeight: 1.44},
                    padding: {top: 108.5, bottom: 0}},
                afterFit: s => { s.width = 352; }
            }
        }
    },
    plugins: [brainErrorBars]
});
</script>
</body>
</html>
